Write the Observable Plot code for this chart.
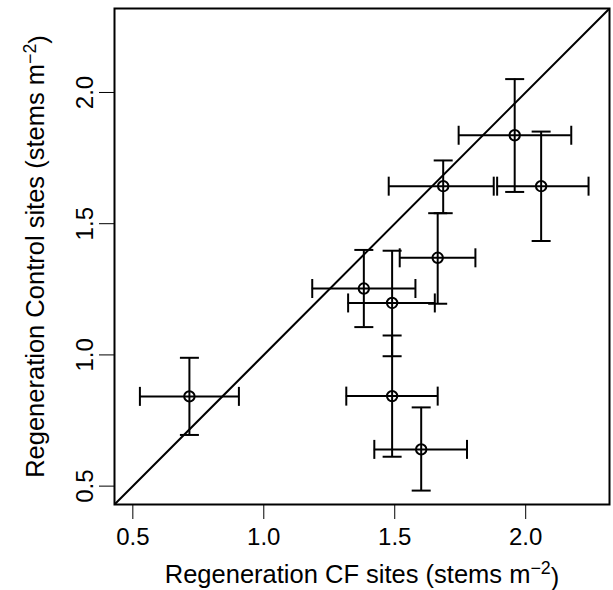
<!DOCTYPE html>
<html>
<head>
<meta charset="utf-8">
<script src="https://cdn.jsdelivr.net/npm/d3@7"></script>
<script src="https://cdn.jsdelivr.net/npm/@observablehq/plot@0.6"></script>
<style>
  html, body { margin: 0; padding: 0; background: #fff; }
  #chart { width: 613px; height: 590px; }
</style>
</head>
<body>
<div id="chart"></div>
<script>
// Regeneration (stems m^-2): CF sites (x) vs Control sites (y), with error bars
const cf     = [0.716, 1.490, 1.382, 1.664, 1.685, 1.958, 2.059, 1.601, 1.490];
const cfLo   = [0.527, 1.315, 1.185, 1.519, 1.477, 1.744, 1.891, 1.422, 1.322];
const cfHi   = [0.905, 1.664, 1.579, 1.808, 1.878, 2.174, 2.240, 1.776, 1.653];
const ctrl   = [0.842, 0.843, 1.253, 1.370, 1.643, 1.837, 1.643, 0.640, 1.198];
const ctrlLo = [0.695, 0.612, 1.106, 1.195, 1.540, 1.621, 1.434, 0.483, 0.995];
const ctrlHi = [0.989, 1.074, 1.400, 1.540, 1.741, 2.051, 1.851, 0.800, 1.397];

const axisLimits = [0.43, 2.32];
const tickValues = [0.5, 1.0, 1.5, 2.0];
const xLabel = "Regeneration CF sites (stems m\u22122)";
const yLabel = "Regeneration Control sites (stems m\u22122)";

const data = cf.map((x, i) => ({
  x, xlo: cfLo[i], xhi: cfHi[i],
  y: ctrl[i], ylo: ctrlLo[i], yhi: ctrlHi[i]
}));

// custom cap symbols (horizontal / vertical line segments)
const hCap = { draw(ctx, size) { const r = Math.sqrt(size / Math.PI); ctx.moveTo(-r, 0); ctx.lineTo(r, 0); } };
const vCap = { draw(ctx, size) { const r = Math.sqrt(size / Math.PI); ctx.moveTo(0, -r); ctx.lineTo(0, r); } };

const capR = 9.5;
const sw = 2;

const chart = Plot.plot({
  width: 613,
  height: 590,
  marginLeft: 114,
  marginRight: 4,
  marginTop: 8,
  marginBottom: 86,
  style: { fontFamily: "'Liberation Sans', Arial, Helvetica, sans-serif", fontSize: "24px", color: "#000", background: "#fff" },
  x: {
    domain: axisLimits, ticks: tickValues, tickFormat: d3.format(".1f"),
    tickSize: 15, tickPadding: 8,
    label: xLabel, labelAnchor: "center", labelOffset: 78
  },
  y: {
    domain: axisLimits, ticks: tickValues, tickFormat: d3.format(".1f"),
    tickSize: 15, tickPadding: 7, tickRotate: -90,
    label: yLabel, labelAnchor: "center", labelOffset: 89, labelArrow: "none"
  },
  marks: [
    Plot.frame({ stroke: "#000", strokeWidth: sw }),
    Plot.line(axisLimits, { x: d => d, y: d => d, stroke: "#000", strokeWidth: sw, clip: true }),
    Plot.ruleX(data, { x: "x", y1: "ylo", y2: "yhi", stroke: "#000", strokeWidth: sw }),
    Plot.ruleY(data, { y: "y", x1: "xlo", x2: "xhi", stroke: "#000", strokeWidth: sw }),
    Plot.dot(data, { x: "x", y: "yhi", symbol: hCap, r: capR, stroke: "#000", strokeWidth: sw, fill: "none" }),
    Plot.dot(data, { x: "x", y: "ylo", symbol: hCap, r: capR, stroke: "#000", strokeWidth: sw, fill: "none" }),
    Plot.dot(data, { x: "xlo", y: "y", symbol: vCap, r: capR, stroke: "#000", strokeWidth: sw, fill: "none" }),
    Plot.dot(data, { x: "xhi", y: "y", symbol: vCap, r: capR, stroke: "#000", strokeWidth: sw, fill: "none" }),
    Plot.dot(data, { x: "x", y: "y", r: 5.2, stroke: "#000", strokeWidth: sw, fill: "none" })
  ]
});

// axis titles slightly larger than tick labels
d3.select(chart).selectAll('g[aria-label="x-axis label"], g[aria-label="y-axis label"]').attr("font-size", 25.5);

// render the "-2" exponent as a superscript
d3.select(chart).selectAll("text").each(function () {
  const t = d3.select(this);
  const s = t.text();
  const idx = s.indexOf("m\u22122)");
  if (idx < 0 || t.selectAll("tspan").size() > 1) return;
  const tspans = t.selectAll("tspan");
  const target = tspans.size() === 1 ? tspans : t;
  target.text(s.slice(0, idx + 1));
  target.append("tspan").attr("dy", "-0.45em").attr("font-size", "0.7em").text("\u22122");
  target.append("tspan").attr("dy", "0.45em").text(")");
});

document.getElementById("chart").appendChild(chart);
</script>
</body>
</html>
